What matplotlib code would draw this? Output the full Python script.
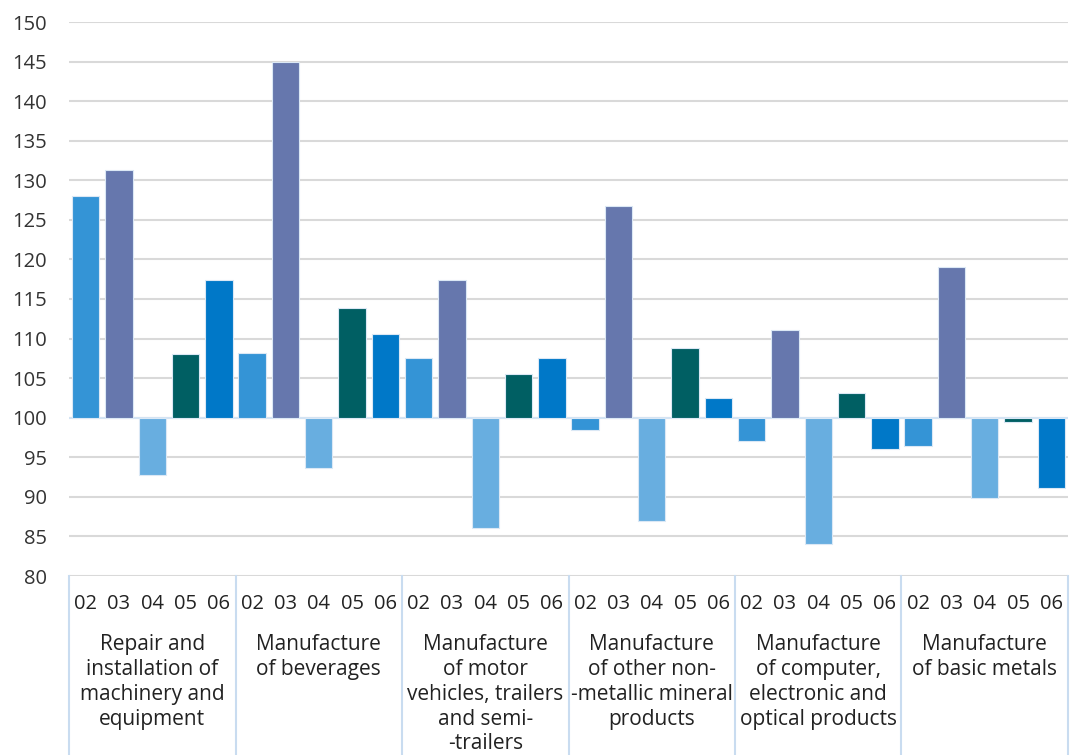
import numpy as np
import matplotlib
matplotlib.use("Agg")
import matplotlib.pyplot as plt
from matplotlib.lines import Line2D

plt.rcParams['font.family'] = ['Open Sans', 'DejaVu Sans']

months = ["02", "03", "04", "05", "06"]
groups = ["Repair and\ninstallation of\nmachinery and\nequipment",
          "Manufacture\nof beverages",
          "Manufacture\nof motor\nvehicles, trailers\nand semi-\n-trailers",
          "Manufacture\nof other non-\n-metallic mineral\nproducts",
          "Manufacture\nof computer,\nelectronic and\noptical products",
          "Manufacture\nof basic metals"]

# index values per group, months 02..06
repair    = [128.0, 131.3, 92.7, 108.0, 117.4]
beverages = [108.2, 145.0, 93.7, 113.8, 110.6]
motor     = [107.6, 117.4, 86.1, 105.5, 107.6]
nonmetal  = [98.4, 126.7, 87.0, 108.8, 102.5]
computer  = [97.1, 111.1, 84.1, 103.1, 96.1]
metals    = [96.4, 119.0, 89.9, 99.5, 91.1]

values = [repair, beverages, motor, nonmetal, computer, metals]
colors = ["#3494d6", "#6677ad", "#68aee0", "#005f63", "#0078c8"]

fig = plt.figure(figsize=(10.70, 7.55), dpi=100)
ax = fig.add_axes([69/1070, 179/755, 999/1070, 554/755])

n = len(months)
for g, vals in enumerate(values):
    for m, v in enumerate(vals):
        x = g*n + m + 0.5
        ax.bar(x, v - 100, bottom=100, width=0.82, color=colors[m],
               edgecolor="#dbe8f5", linewidth=0.8, zorder=3)

ax.set_xlim(0, n*len(groups))
ax.set_ylim(80, 150)
ax.set_yticks(np.arange(80, 151, 5))
ax.tick_params(axis='y', length=0, labelsize=14.5, labelcolor="#333333", pad=16)
ax.set_xticks([])
for s in ax.spines.values():
    s.set_visible(False)
ax.grid(axis='y', color="#d9d9d9", linewidth=1.5, zorder=0)
ax.axhline(100, color="#d3e3f3", linewidth=1.5, zorder=2)

trans = ax.get_xaxis_transform()
low = -179/554
for g in range(len(groups) + 1):
    ax.add_line(Line2D([g*n, g*n], [0, low], transform=trans, color="#c9dcf0",
                       linewidth=1.5, clip_on=False))

for g, name in enumerate(groups):
    for m, lab in enumerate(months):
        ax.text(g*n + m + 0.5, -28/554, lab, transform=trans, ha='center', va='center',
                fontsize=14.5, color="#222222")
    ax.text(g*n + n/2, -58/554, name, transform=trans, ha='center', va='top',
            fontsize=15, color="#222222", linespacing=1.24)

fig.savefig("out.png", dpi=100)
